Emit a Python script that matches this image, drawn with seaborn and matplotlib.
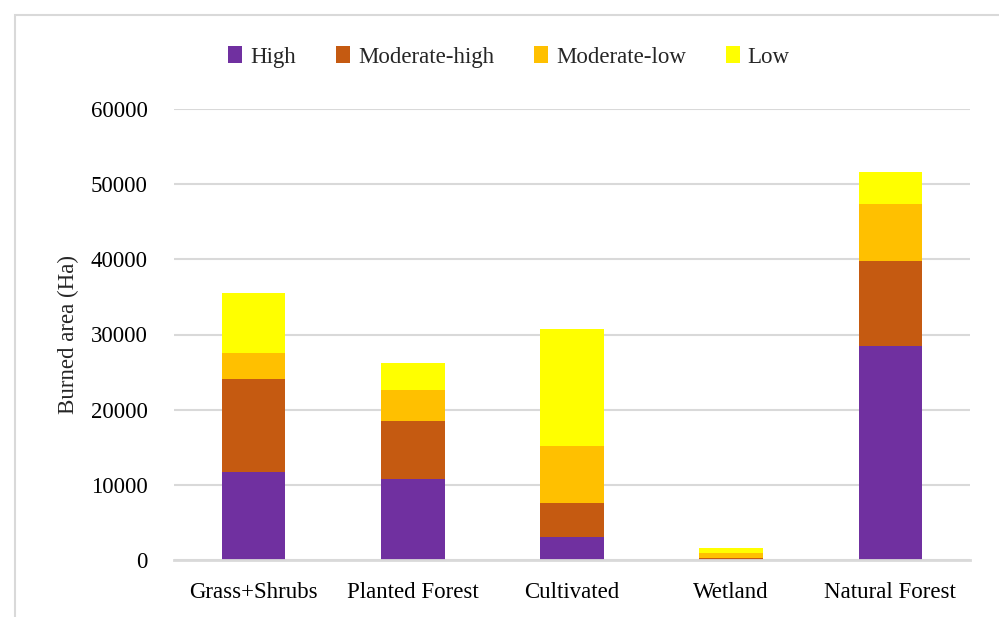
import numpy as np
import pandas as pd
import matplotlib
matplotlib.use("Agg")
import matplotlib.pyplot as plt
from matplotlib.patches import Rectangle, Patch
import seaborn as sns

# Burned area (Ha) per land cover class, split by burn severity
land_cover = ["Grass+Shrubs", "Planted Forest", "Cultivated", "Wetland", "Natural Forest"]
high = [11760, 10830, 3090, 60, 28430]
moderate_high = [12300, 7680, 4440, 240, 11410]
moderate_low = [3500, 4130, 7640, 610, 7470]
low = [7960, 3560, 15560, 630, 4360]

severity = ["High", "Moderate-high", "Moderate-low", "Low"]
colors = ["#7030A0", "#C55A11", "#FFC000", "#FFFF00"]
yticks = [0, 10000, 20000, 30000, 40000, 50000, 60000]

sns.set_theme(style="white")
plt.rcParams["font.family"] = ["Liberation Serif", "DejaVu Serif"]
grid_gray = "#d9d9d9"
fs = 16.5

df = pd.DataFrame({"cover": land_cover, "High": high, "Moderate-high": moderate_high,
                   "Moderate-low": moderate_low, "Low": low})
cum = df[severity].cumsum(axis=1)

fig = plt.figure(figsize=(9.99, 6.17), dpi=100)
ax = fig.add_axes([174 / 999, 1 - 560 / 617, 796 / 999, 451 / 617])

# stacked bars: draw cumulative totals from the top layer downwards
for name, col in reversed(list(zip(severity, colors))):
    sns.barplot(x=df["cover"], y=cum[name], color=col, width=0.4, ax=ax,
                saturation=1, edgecolor="none", linewidth=0, zorder=3)

ax.set_xlim(-0.5, len(land_cover) - 0.5)
ax.set_ylim(0, 60000)
ax.set_yticks(yticks)
ax.set_yticklabels([str(v) for v in yticks])
ax.yaxis.grid(True, color=grid_gray, linewidth=1.5, zorder=0)
ax.set_axisbelow(True)
for s in ["top", "right", "left"]:
    ax.spines[s].set_visible(False)
ax.spines["bottom"].set_color(grid_gray)
ax.spines["bottom"].set_linewidth(2)
ax.spines["bottom"].set_zorder(4)

ax.set_xlabel("")
ax.set_ylabel("Burned area (Ha)", fontsize=fs, labelpad=8)
ax.tick_params(axis="y", length=0, pad=19, labelsize=fs)
ax.tick_params(axis="x", which="major", length=0, pad=16, labelsize=fs)
ax.set_xticks(np.arange(-0.5, len(land_cover)), minor=True)
ax.tick_params(axis="x", which="minor", direction="inout", length=11,
               width=1.5, color=grid_gray)
for lab in ax.get_xticklabels() + ax.get_yticklabels():
    lab.set_color("#000000")

handles = [Patch(facecolor=c, edgecolor="none", label=n) for n, c in zip(severity, colors)]
fig.legend(handles=handles, loc="center", bbox_to_anchor=(509 / 999, 1 - 57 / 617),
           ncol=4, frameon=False, fontsize=fs, handlelength=0.6, handleheight=0.7,
           handletextpad=0.35, columnspacing=1.75)

# chart area border
fig.patches.append(Rectangle((15 / 999, -0.1), 2, 1.1 - 15 / 617,
                             transform=fig.transFigure, fill=False,
                             edgecolor=grid_gray, linewidth=1.5))

fig.savefig("out.png", dpi=100)
